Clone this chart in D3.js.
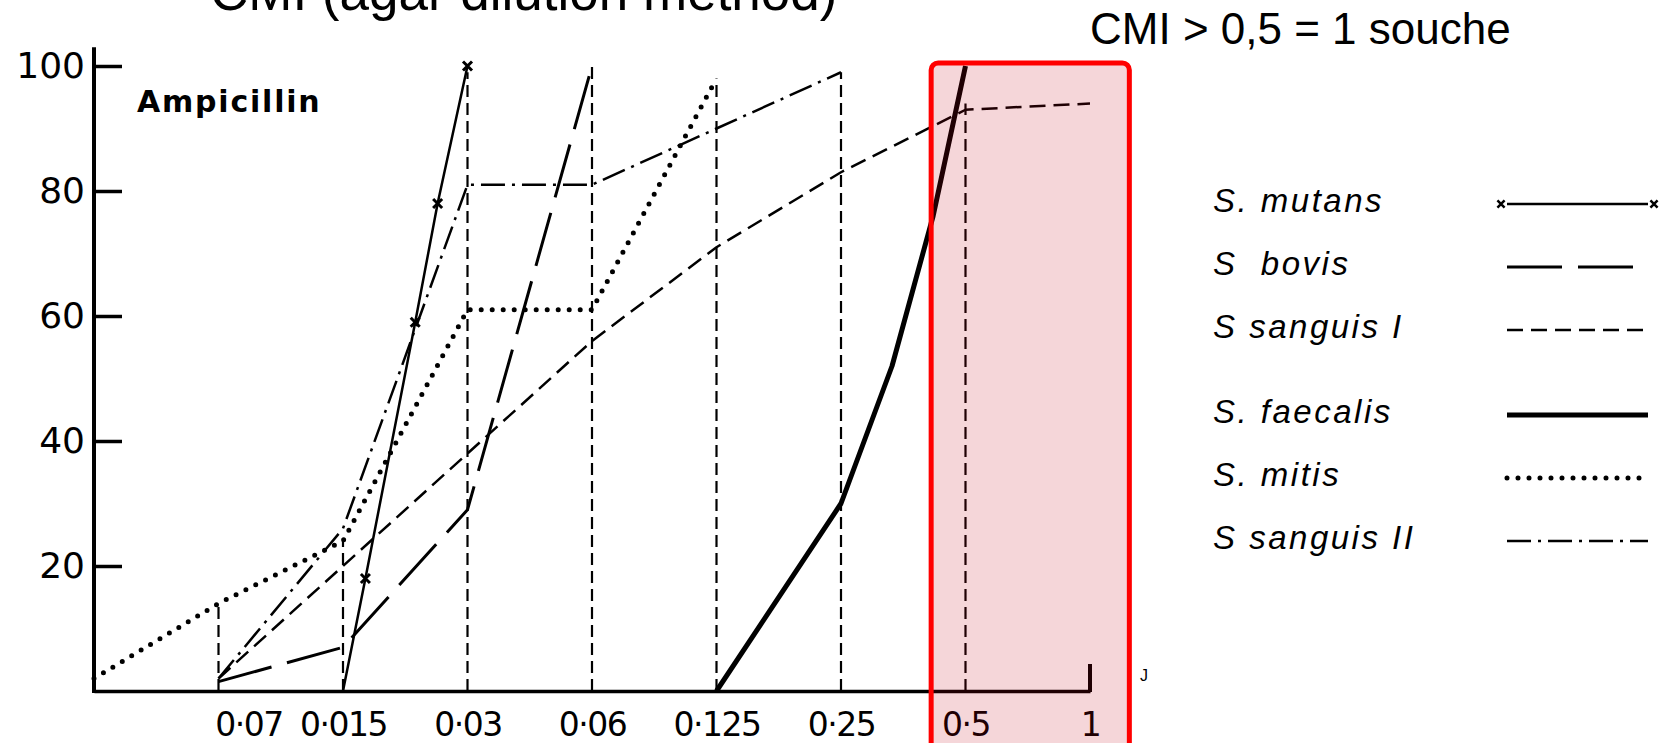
<!DOCTYPE html>
<html>
<head>
<meta charset="utf-8">
<script src="https://cdn.jsdelivr.net/npm/d3@7"></script>
<style>
  body { margin: 0; background: #fff; }
  svg { display: block; }
</style>
</head>
<body>
<div id="chart"></div>
<script>
// dilution steps: 0 = origin, 1 = 0·07 ... 8 = 1 (mg/l)
const stepLabels = ['0·07', '0·015', '0·03', '0·06', '0·125', '0·25', '0·5', '1']
const yTicks = [20, 40, 60, 80, 100]

// [step, % strains inhibited]
const mutans = [[2, 0], [2.18, 18], [2.58, 59], [2.76, 78], [3, 100]]
const bovis = [[1, 1.5], [2, 7], [3, 29], [4, 100]]
const sanguisI = [[1, 2], [2, 20], [3, 38], [4, 56], [5, 71], [6, 83], [7, 93], [8, 94]]
const faecalis = [[5, 0], [6, 30], [6.41, 52], [6.74, 76], [7, 100]]
const mitis = [[0, 2], [1, 14], [2, 24], [3, 61], [4, 61], [5, 98]]
const sanguisII = [[1, 2], [2, 26], [3, 81], [4, 81], [5, 90], [6, 99]]

const seriesNames = ['S. mutans', 'S  bovis', 'S sanguis I', 'S. faecalis', 'S. mitis', 'S sanguis II']
const seriesValues = [mutans, bovis, sanguisI, faecalis, mitis, sanguisII]

// vertical dashed drop lines: [step, top %]
const dropLines = [[1, 14], [2, 24], [3, 99], [4, 100], [5, 98], [6, 99], [7, 94]]

const title = 'CMI (agar dilution method)'
const note = 'CMI > 0,5 = 1 souche'

const styles = {
  'S. mutans': { w: 2.5, dash: null, marker: true },
  'S  bovis': { w: 3, dash: '55 16' },
  'S sanguis I': { w: 2.5, dash: '16 8' },
  'S. faecalis': { w: 5, dash: null },
  'S. mitis': { w: 5, dash: '0 11', cap: 'round' },
  'S sanguis II': { w: 2.5, dash: '24 7 3 7' }
}

const width = 1661
const height = 743

const svg = d3
  .select('#chart')
  .append('svg')
  .attr('width', width)
  .attr('height', height)

const x = d3.scaleLinear().domain([0, 8]).range([94, 1090])
const y = d3.scaleLinear().domain([0, 100]).range([691, 66])

const line = d3
  .line()
  .x(d => x(d[0]))
  .y(d => y(d[1]))

// title (cut off at top) and note
svg
  .append('text')
  .attr('x', 210)
  .attr('y', 10)
  .style('font-family', "'Liberation Sans', Arial, sans-serif")
  .style('font-size', '53px')
  .text(title)

svg
  .append('text')
  .attr('x', 1090)
  .attr('y', 44)
  .style('font-family', "'Liberation Sans', Arial, sans-serif")
  .style('font-size', '44px')
  .text(note)

// drop lines
svg
  .append('g')
  .selectAll('line')
  .data(dropLines)
  .join('line')
  .attr('x1', d => x(d[0]))
  .attr('x2', d => x(d[0]))
  .attr('y1', y(0))
  .attr('y2', d => y(d[1]))
  .attr('stroke', '#000')
  .attr('stroke-width', 2.2)
  .attr('stroke-dasharray', '12 6')

// series
const series = seriesNames.map((name, i) => ({ name, values: seriesValues[i] }))

svg
  .append('g')
  .selectAll('path')
  .data(series)
  .join('path')
  .attr('d', d => line(d.values))
  .attr('fill', 'none')
  .attr('stroke', '#000')
  .attr('stroke-width', d => styles[d.name].w)
  .attr('stroke-dasharray', d => styles[d.name].dash)
  .attr('stroke-linecap', d => styles[d.name].cap || 'butt')
  .attr('stroke-linejoin', 'round')

const xMark = d3.symbol(d3.symbolX, 55)

svg
  .append('g')
  .selectAll('path')
  .data(mutans.filter(d => d[1] > 0))
  .join('path')
  .attr('d', xMark)
  .attr('transform', d => `translate(${x(d[0])},${y(d[1])})`)
  .attr('stroke', '#000')
  .attr('stroke-width', 3)

// y axis
const yAxis = svg
  .append('g')
  .attr('transform', `translate(${x(0)},0)`)
  .call(
    d3
      .axisLeft(y)
      .tickValues(yTicks)
      .tickSizeInner(-28)
      .tickSizeOuter(0)
      .tickPadding(9)
  )
yAxis.select('.domain').remove()
yAxis.selectAll('.tick line').attr('stroke-width', 3.5)
yAxis
  .selectAll('text')
  .style('font-family', "'DejaVu Sans', sans-serif")
  .style('font-size', '36px')
  .attr('fill', '#000')
yAxis
  .append('line')
  .attr('y1', y(0) + 2)
  .attr('y2', y(103))
  .attr('stroke', '#000')
  .attr('stroke-width', 4)

// x axis
const xAxis = svg
  .append('g')
  .attr('transform', `translate(0,${y(0)})`)
  .call(
    d3
      .axisBottom(x)
      .tickValues(d3.range(1, 9))
      .tickFormat((d, i) => stepLabels[i])
      .tickSize(0)
      .tickPadding(22)
  )
xAxis.select('.domain').attr('stroke-width', 3.5)
xAxis
  .selectAll('text')
  .attr('dx', (d, i) => (i === 0 ? 30 : 0))
  .style('font-family', "'DejaVu Sans', sans-serif")
  .style('font-size', '33px')
  .style('letter-spacing', '-1.5px')
  .attr('fill', '#000')
xAxis
  .append('line')
  .attr('x1', x(8))
  .attr('x2', x(8))
  .attr('y1', 1)
  .attr('y2', -27)
  .attr('stroke', '#000')
  .attr('stroke-width', 4)

svg
  .append('text')
  .attr('x', 137)
  .attr('y', 112)
  .style('font-family', "'DejaVu Sans', sans-serif")
  .style('font-size', '30px')
  .style('font-weight', 'bold')
  .style('letter-spacing', '1.8px')
  .text('Ampicillin')

svg
  .append('text')
  .attr('x', 1140)
  .attr('y', 681)
  .style('font-family', "'Liberation Sans', Arial, sans-serif")
  .style('font-size', '16px')
  .text('J')

// legend
const rowY = i => 212 + i * 63 + (i >= 3 ? 22 : 0)

const legend = svg
  .append('g')
  .selectAll('g')
  .data(series)
  .join('g')
  .attr('transform', (d, i) => `translate(0,${rowY(i)})`)

legend
  .append('text')
  .attr('x', 1213)
  .style('font-family', "'Liberation Sans', Arial, sans-serif")
  .style('font-style', 'italic')
  .style('font-size', '33px')
  .style('letter-spacing', '2.5px')
  .style('white-space', 'pre')
  .text(d => d.name)

legend
  .append('line')
  .attr('x1', 1507)
  .attr('x2', 1648)
  .attr('y1', -8)
  .attr('y2', -8)
  .attr('stroke', '#000')
  .attr('stroke-width', d => styles[d.name].w)
  .attr('stroke-dasharray', d => styles[d.name].dash)
  .attr('stroke-linecap', d => styles[d.name].cap || 'butt')

legend
  .filter(d => styles[d.name].marker)
  .selectAll('.lm')
  .data([1501, 1654])
  .join('path')
  .attr('class', 'lm')
  .attr('d', d3.symbol(d3.symbolX, 35))
  .attr('transform', d => `translate(${d},-8)`)
  .attr('stroke', '#000')
  .attr('stroke-width', 2.5)

// highlight of the 0·5 column
svg
  .append('rect')
  .attr('x', x(6.7) + 3)
  .attr('y', y(100.5))
  .attr('width', x(8.3) - x(6.7) - 1)
  .attr('height', height)
  .attr('rx', 7)
  .attr('fill', 'rgba(192,0,20,0.16)')
  .attr('stroke', '#ff0000')
  .attr('stroke-width', 5)
</script>
</body>
</html>
